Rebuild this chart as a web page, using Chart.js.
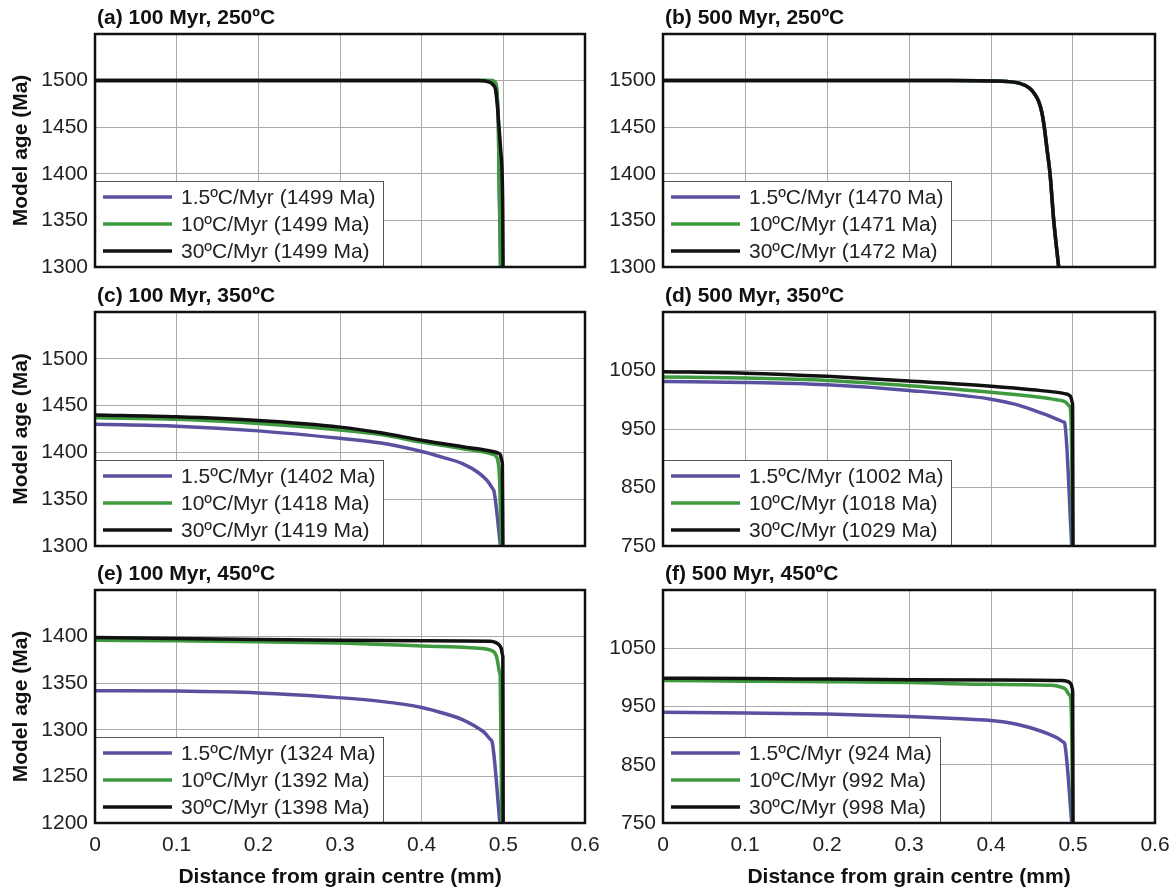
<!DOCTYPE html>
<html>
<head>
<meta charset="utf-8">
<script src="https://cdn.jsdelivr.net/npm/chart.js@4.4.0/dist/chart.umd.min.js"></script>
<style>
body { margin: 0; background: #fff; }
#wrap { position: relative; width: 1173px; height: 893px; }
canvas { position: absolute; }
</style>
</head>
<body>
<div id="wrap">
  <canvas id="cA" width="600" height="280" style="left:0;top:0"></canvas>
  <canvas id="cB" width="573" height="280" style="left:600px;top:0"></canvas>
  <canvas id="cC" width="600" height="278" style="left:0;top:280px"></canvas>
  <canvas id="cD" width="573" height="278" style="left:600px;top:280px"></canvas>
  <canvas id="cE" width="600" height="335" style="left:0;top:558px"></canvas>
  <canvas id="cF" width="573" height="335" style="left:600px;top:558px"></canvas>
</div>
<script>
// series: 1.5ºC/Myr (purple), 10ºC/Myr (green), 30ºC/Myr (black)
var rateLabels = ['1.5ºC/Myr', '10ºC/Myr', '30ºC/Myr'];

// (a) 100 Myr, 250ºC
var aX_p = [0, 0.1, 0.2, 0.3, 0.4, 0.47, 0.485, 0.489, 0.491, 0.492, 0.493, 0.494, 0.4947, 0.4957, 0.4966];
var aY_p = [1500, 1500, 1500, 1500, 1500, 1500, 1500, 1499, 1496, 1490, 1475, 1450, 1400, 1350, 1300];
var aX_g = [0, 0.1, 0.2, 0.3, 0.4, 0.47, 0.485, 0.489, 0.491, 0.492, 0.493, 0.494, 0.4947, 0.4957, 0.4966];
var aY_g = [1500, 1500, 1500, 1500, 1500, 1500, 1500, 1499, 1496, 1490, 1475, 1450, 1400, 1350, 1300];
var aX_k = [0, 0.1, 0.2, 0.3, 0.4, 0.47, 0.478, 0.484, 0.488, 0.4905, 0.4925, 0.4947, 0.4968, 0.4985, 0.4993, 0.4997];
var aY_k = [1500, 1500, 1500, 1500, 1500, 1500, 1499.5, 1498, 1495, 1490, 1475, 1450, 1425, 1400, 1360, 1300];
var aBulk = [1499, 1499, 1499];

// (b) 500 Myr, 250ºC
var bX = [0, 0.1, 0.2, 0.3, 0.35, 0.4, 0.42, 0.435, 0.447, 0.453, 0.458, 0.462, 0.465, 0.4685, 0.472, 0.4765, 0.4825];
var bY_p = [1500, 1500, 1500, 1500, 1500, 1499.5, 1499, 1497, 1492, 1486, 1478, 1466, 1450, 1425, 1400, 1350, 1300];
var bY_g = [1500, 1500, 1500, 1500, 1500, 1499.5, 1499, 1497, 1492, 1486, 1478, 1466, 1450, 1425, 1400, 1350, 1300];
var bY_k = [1500, 1500, 1500, 1500, 1500, 1499.5, 1499, 1497, 1492, 1486, 1478, 1466, 1450, 1425, 1400, 1350, 1300];
var bBulk = [1470, 1471, 1472];

// (c) 100 Myr, 350ºC
var cX_p = [0, 0.1, 0.2, 0.3, 0.35, 0.4, 0.425, 0.45, 0.47, 0.48, 0.4875, 0.4885, 0.4965];
var cY_p = [1430, 1428, 1423, 1415, 1410, 1401, 1395, 1388, 1378, 1370, 1360.5, 1359, 1300];
var cX_g = [0, 0.1, 0.2, 0.3, 0.35, 0.4, 0.45, 0.487, 0.491, 0.4935, 0.4955, 0.4975];
var cY_g = [1437, 1435.5, 1431, 1424, 1419, 1411, 1404, 1398, 1396, 1390, 1370, 1300];
var cX_k = [0, 0.1, 0.2, 0.3, 0.35, 0.4, 0.45, 0.487, 0.493, 0.4965, 0.4985, 0.4988, 0.4995];
var cY_k = [1440, 1438, 1434, 1427, 1421, 1413, 1406, 1401, 1399.5, 1397, 1390, 1388, 1300];
var cBulk = [1402, 1418, 1419];

// (d) 500 Myr, 350ºC
var dX_p = [0, 0.1, 0.2, 0.3, 0.4, 0.43, 0.454, 0.47, 0.482, 0.4887, 0.4897, 0.4985];
var dY_p = [1031, 1029.5, 1025.5, 1016, 1001, 992, 981, 973, 966, 962, 961, 750];
var dX_g = [0, 0.1, 0.2, 0.3, 0.4, 0.45, 0.48, 0.491, 0.495, 0.497, 0.4985, 0.4995];
var dY_g = [1039, 1037, 1033, 1024, 1013, 1006, 1000, 996, 990, 982, 900, 750];
var dX_k = [0, 0.1, 0.2, 0.3, 0.4, 0.45, 0.491, 0.495, 0.4975, 0.4992, 0.4995, 0.5];
var dY_k = [1048, 1045.5, 1040, 1032, 1023, 1017, 1010, 1008, 1004, 995, 990, 750];
var dBulk = [1002, 1018, 1029];

// (e) 100 Myr, 450ºC
var eX_p = [0, 0.1, 0.2, 0.29, 0.35, 0.4, 0.43, 0.45, 0.465, 0.477, 0.485, 0.486, 0.4958];
var eY_p = [1342, 1341.5, 1339.5, 1335, 1330.5, 1324, 1317, 1311, 1304, 1297, 1289, 1288, 1200];
var eX_g = [0, 0.1, 0.2, 0.3, 0.4, 0.47, 0.4856, 0.4917, 0.4958, 0.4962, 0.498];
var eY_g = [1396, 1395.5, 1394.5, 1393, 1390, 1387.5, 1385, 1378.5, 1360, 1357, 1200];
var eX_k = [0, 0.1, 0.2, 0.3, 0.4, 0.484, 0.491, 0.495, 0.4975, 0.4992, 0.4994, 0.4998];
var eY_k = [1399, 1398, 1397, 1396, 1395.5, 1395, 1393.5, 1391, 1387, 1380, 1378, 1200];
var eBulk = [1324, 1392, 1398];

// (f) 500 Myr, 450ºC
var fX_p = [0, 0.1, 0.2, 0.3, 0.35, 0.4, 0.43, 0.454, 0.47, 0.481, 0.4887, 0.4897, 0.4985];
var fY_p = [940, 939, 937, 933, 930, 926, 920, 911, 903, 896, 888.5, 887, 750];
var fX_g = [0, 0.1, 0.2, 0.3, 0.4, 0.474, 0.485, 0.491, 0.495, 0.497, 0.4985, 0.4995];
var fY_g = [994.5, 993.5, 992.5, 991, 988, 986.5, 983.5, 979.5, 971, 965, 900, 750];
var fX_k = [0, 0.1, 0.2, 0.3, 0.4, 0.486, 0.492, 0.496, 0.498, 0.4993, 0.4996, 0.5];
var fY_k = [998.5, 998, 997, 996, 995.5, 994.5, 993.5, 991, 987, 980, 975, 750];
var fBulk = [924, 992, 998];

var colors = ['#5a50a0', '#3f9a3f', '#111111'];
var FONT = '"Liberation Sans", Arial, Helvetica, sans-serif';

function pts(xs, ys) {
    return xs.map(function(x, i) { return {x: x, y: ys[i]}; });
}

// legend box, plot frame and panel title drawn inside the chart area
var panelDeco = {
    id: 'panelDeco',
    afterDatasetsDraw: function(chart, args, o) {
        var ctx = chart.ctx, a = chart.chartArea;
        ctx.save();
        ctx.font = '21px ' + FONT;
        var maxW = 0;
        chart.data.datasets.forEach(function(ds) {
            maxW = Math.max(maxW, ctx.measureText(ds.label).width);
        });
        var w = Math.round(86 + maxW + 8), h = 86;
        var x0 = a.left, y0 = a.bottom - h;
        ctx.fillStyle = '#fff';
        ctx.fillRect(x0, y0, w, h);
        ctx.strokeStyle = '#555';
        ctx.lineWidth = 1;
        ctx.strokeRect(x0 + 0.5, y0 + 0.5, w, h);
        chart.data.datasets.forEach(function(ds, i) {
            var yy = y0 + 16 + i * 27;
            ctx.strokeStyle = ds.borderColor;
            ctx.lineWidth = 3.5;
            ctx.beginPath();
            ctx.moveTo(x0 + 8, yy);
            ctx.lineTo(x0 + 77, yy);
            ctx.stroke();
            ctx.fillStyle = '#222';
            ctx.textBaseline = 'middle';
            ctx.textAlign = 'left';
            ctx.fillText(ds.label, x0 + 86, yy + 1);
        });
        ctx.strokeStyle = '#111';
        ctx.lineWidth = 2.5;
        ctx.strokeRect(a.left, a.top, a.right - a.left, a.bottom - a.top);
        ctx.font = 'bold 21px ' + FONT;
        ctx.fillStyle = '#111';
        ctx.textBaseline = 'alphabetic';
        ctx.fillText(o.text, a.left + 2, a.top - 10);
        ctx.restore();
    }
};

function makePanel(id, title, series, bulk, yMin, yMax, yStep, isLeft, isBottom, padTop, padBottom) {
    var datasets = series.map(function(s, i) {
        return {
            label: rateLabels[i] + ' (' + bulk[i] + ' Ma)',
            data: pts(s[0], s[1]),
            borderColor: colors[i],
            borderWidth: 3.5,
            borderJoinStyle: 'round',
            pointRadius: 0,
            fill: false,
            cubicInterpolationMode: 'monotone',
            order: 2 - i
        };
    });
    return new Chart(document.getElementById(id).getContext('2d'), {
        type: 'line',
        data: { datasets: datasets },
        plugins: [panelDeco],
        options: {
            responsive: false,
            animation: false,
            layout: { padding: { left: 0, right: isLeft ? 15 : 18, top: padTop, bottom: padBottom } },
            plugins: {
                legend: { display: false },
                tooltip: { enabled: false },
                panelDeco: { text: title }
            },
            scales: {
                x: {
                    type: 'linear', min: 0, max: 0.6,
                    ticks: { display: isBottom, stepSize: 0.1, padding: 10, color: '#222', font: { family: FONT, size: 21 } },
                    grid: { color: '#aaa', lineWidth: 1, drawTicks: false },
                    border: { display: false },
                    title: { display: isBottom, text: 'Distance from grain centre (mm)', color: '#111',
                             font: { family: FONT, size: 21, weight: 'bold' }, padding: 0 },
                    afterFit: function(s) {
                        s.height = isBottom ? 67 : 0;
                        s.paddingLeft = 0;
                        s.paddingRight = 0;
                    }
                },
                y: {
                    min: yMin, max: yMax,
                    ticks: {
                        stepSize: yStep, padding: 7, color: '#222', font: { family: FONT, size: 21 },
                        callback: function(v) { return v === yMax ? '' : v; }
                    },
                    grid: { color: '#aaa', lineWidth: 1, drawTicks: false },
                    border: { display: false },
                    title: { display: isLeft, text: 'Model age (Ma)', color: '#111',
                             font: { family: FONT, size: 21, weight: 'bold' }, padding: { top: 9, bottom: 0 } },
                    afterFit: function(s) {
                        s.width = isLeft ? 95 : 63;
                        s.paddingTop = 0;
                        s.paddingBottom = 0;
                    }
                }
            }
        }
    });
}

makePanel('cA', '(a) 100 Myr, 250ºC', [[aX_p, aY_p], [aX_g, aY_g], [aX_k, aY_k]], aBulk, 1300, 1550, 50, true, false, 34, 13);
makePanel('cB', '(b) 500 Myr, 250ºC', [[bX, bY_p], [bX, bY_g], [bX, bY_k]], bBulk, 1300, 1550, 50, false, false, 34, 13);
makePanel('cC', '(c) 100 Myr, 350ºC', [[cX_p, cY_p], [cX_g, cY_g], [cX_k, cY_k]], cBulk, 1300, 1550, 50, true, false, 32, 12);
makePanel('cD', '(d) 500 Myr, 350ºC', [[dX_p, dY_p], [dX_g, dY_g], [dX_k, dY_k]], dBulk, 750, 1150, 100, false, false, 32, 12);
makePanel('cE', '(e) 100 Myr, 450ºC', [[eX_p, eY_p], [eX_g, eY_g], [eX_k, eY_k]], eBulk, 1200, 1450, 50, true, true, 32, 3);
makePanel('cF', '(f) 500 Myr, 450ºC', [[fX_p, fY_p], [fX_g, fY_g], [fX_k, fY_k]], fBulk, 750, 1150, 100, false, true, 32, 3);
</script>
</body>
</html>
